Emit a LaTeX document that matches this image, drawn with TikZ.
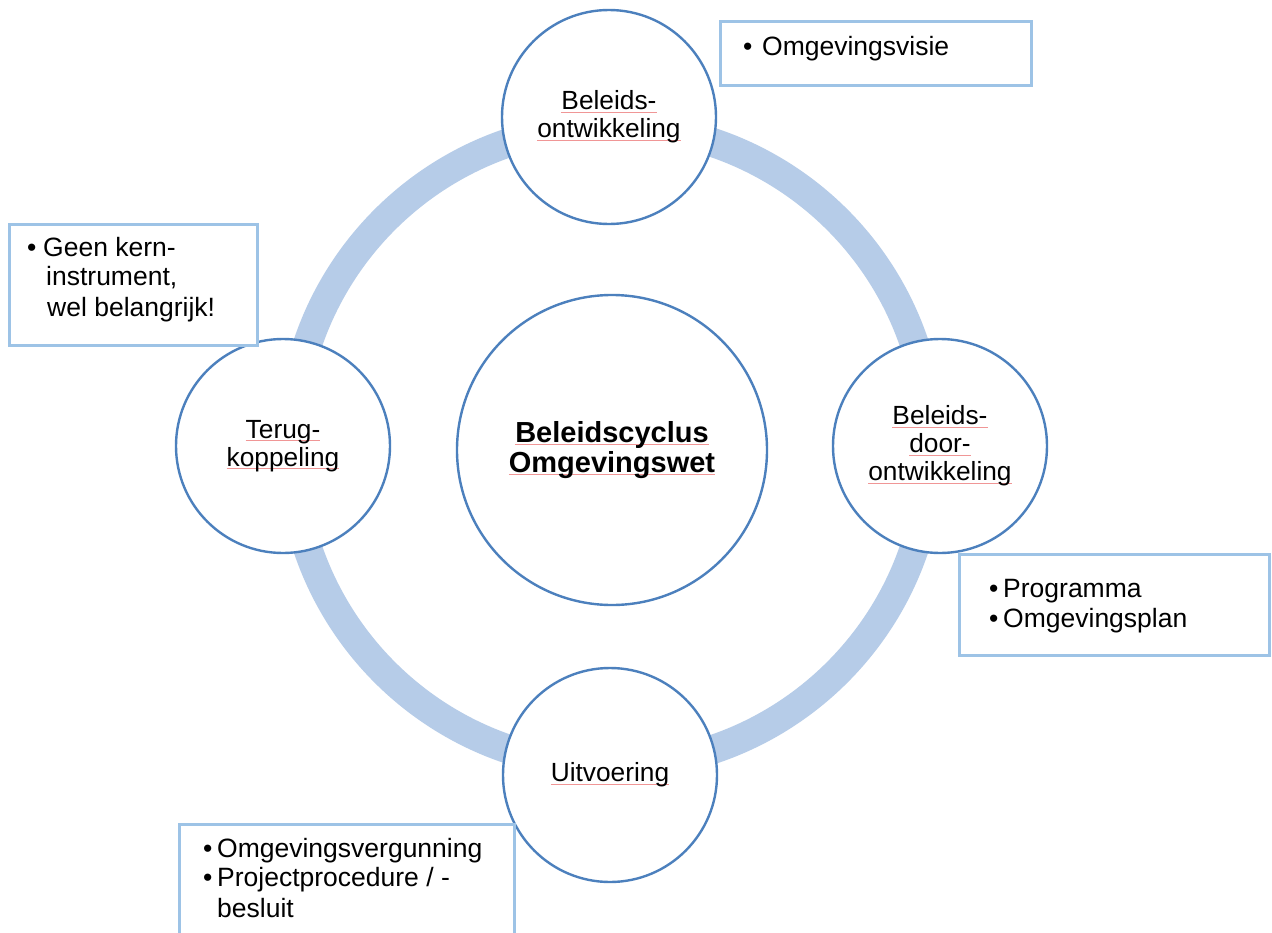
\documentclass[tikz,border=0pt]{standalone}
\usepackage{fontspec}
\setmainfont{Liberation Sans}
\definecolor{ringblue}{RGB}{182,204,232}
\definecolor{cstroke}{RGB}{76,128,189}
\definecolor{bstroke}{RGB}{157,195,230}
\definecolor{sqred}{RGB}{240,150,150}
\newcommand\sqline[1]{\sbox0{#1}\rlap{\textcolor{sqred}{\rule[-2.6bp]{\wd0}{0.8bp}}}\usebox0}
\begin{document}
\begin{tikzpicture}[x=1bp,y=-1bp,
  stage/.style={circle, draw=cstroke, line width=2.4bp, fill=white, minimum size=214bp,
    inner sep=0pt, align=center, font=\fontsize{26.3bp}{28bp}\selectfont},
  hub/.style={circle, draw=cstroke, line width=2.4bp, fill=white, minimum size=310bp,
    inner sep=0pt, align=center, font=\bfseries\fontsize{29bp}{30bp}\selectfont},
  infobox/.style={rectangle, draw=bstroke, line width=2.7bp, fill=white, inner sep=0pt, anchor=north west},
  itemtxt/.style={anchor=base west, inner sep=0pt, font=\fontsize{26.5bp}{29bp}\selectfont}]
\clip (0,0) rectangle (1272,933);
\fill[white] (0,0) rectangle (1272,933);
% ring
\coordinate (ringc) at (611,446);
\draw[ringblue, line width=29bp] (ringc) circle[radius=320];
% hub
\node[hub] (hub) at (612,450) {\sqline{Beleidscyclus}\\\sqline{Omgevingswet}};
% stages
\node[stage] (top) at (609,117) {\sqline{Beleids-}\\\sqline{ontwikkeling}};
\node[stage] (right) at (940,446) {\sqline{Beleids-}\\\sqline{door-}\\\sqline{ontwikkeling}};
\node[stage] (bottom) at (610,775) {\sqline{Uitvoering}};
\node[stage] (left) at (283,446) {\sqline{Terug-}\\\sqline{koppeling}};
% boxes
\node[infobox, minimum width=311bp, minimum height=64bp] (visiebox) at (719,20) {};
\node[itemtxt] (vb1) at (743,55) {•};
\node[itemtxt] (vt1) at (762,55) {Omgevingsvisie};

\node[infobox, minimum width=248bp, minimum height=121bp] (terugbox) at (8,223) {};
\node[itemtxt] (tb1) at (27,256) {•};
\node[itemtxt] (tt1) at (43,256) {Geen kern-};
\node[itemtxt] (tt2) at (46,285) {instrument,};
\node[itemtxt] (tt3) at (47,316) {wel belangrijk!};

\node[infobox, minimum width=310bp, minimum height=101bp] (planbox) at (958,553) {};
\node[itemtxt] (pb1) at (989,597) {•};
\node[itemtxt] (pt1) at (1003,597) {Programma};
\node[itemtxt] (pb2) at (989,627) {•};
\node[itemtxt] (pt2) at (1003,627) {Omgevingsplan};

\node[infobox, minimum width=335bp, minimum height=140bp] (uitvbox) at (178,823) {};
\node[itemtxt] (ub1) at (203,857) {•};
\node[itemtxt] (ut1) at (217,857) {Omgevingsvergunning};
\node[itemtxt] (ub2) at (203,886) {•};
\node[itemtxt] (ut2) at (217,886) {Projectprocedure / -};
\node[itemtxt] (ut3) at (217,917) {besluit};
\end{tikzpicture}
\end{document}
